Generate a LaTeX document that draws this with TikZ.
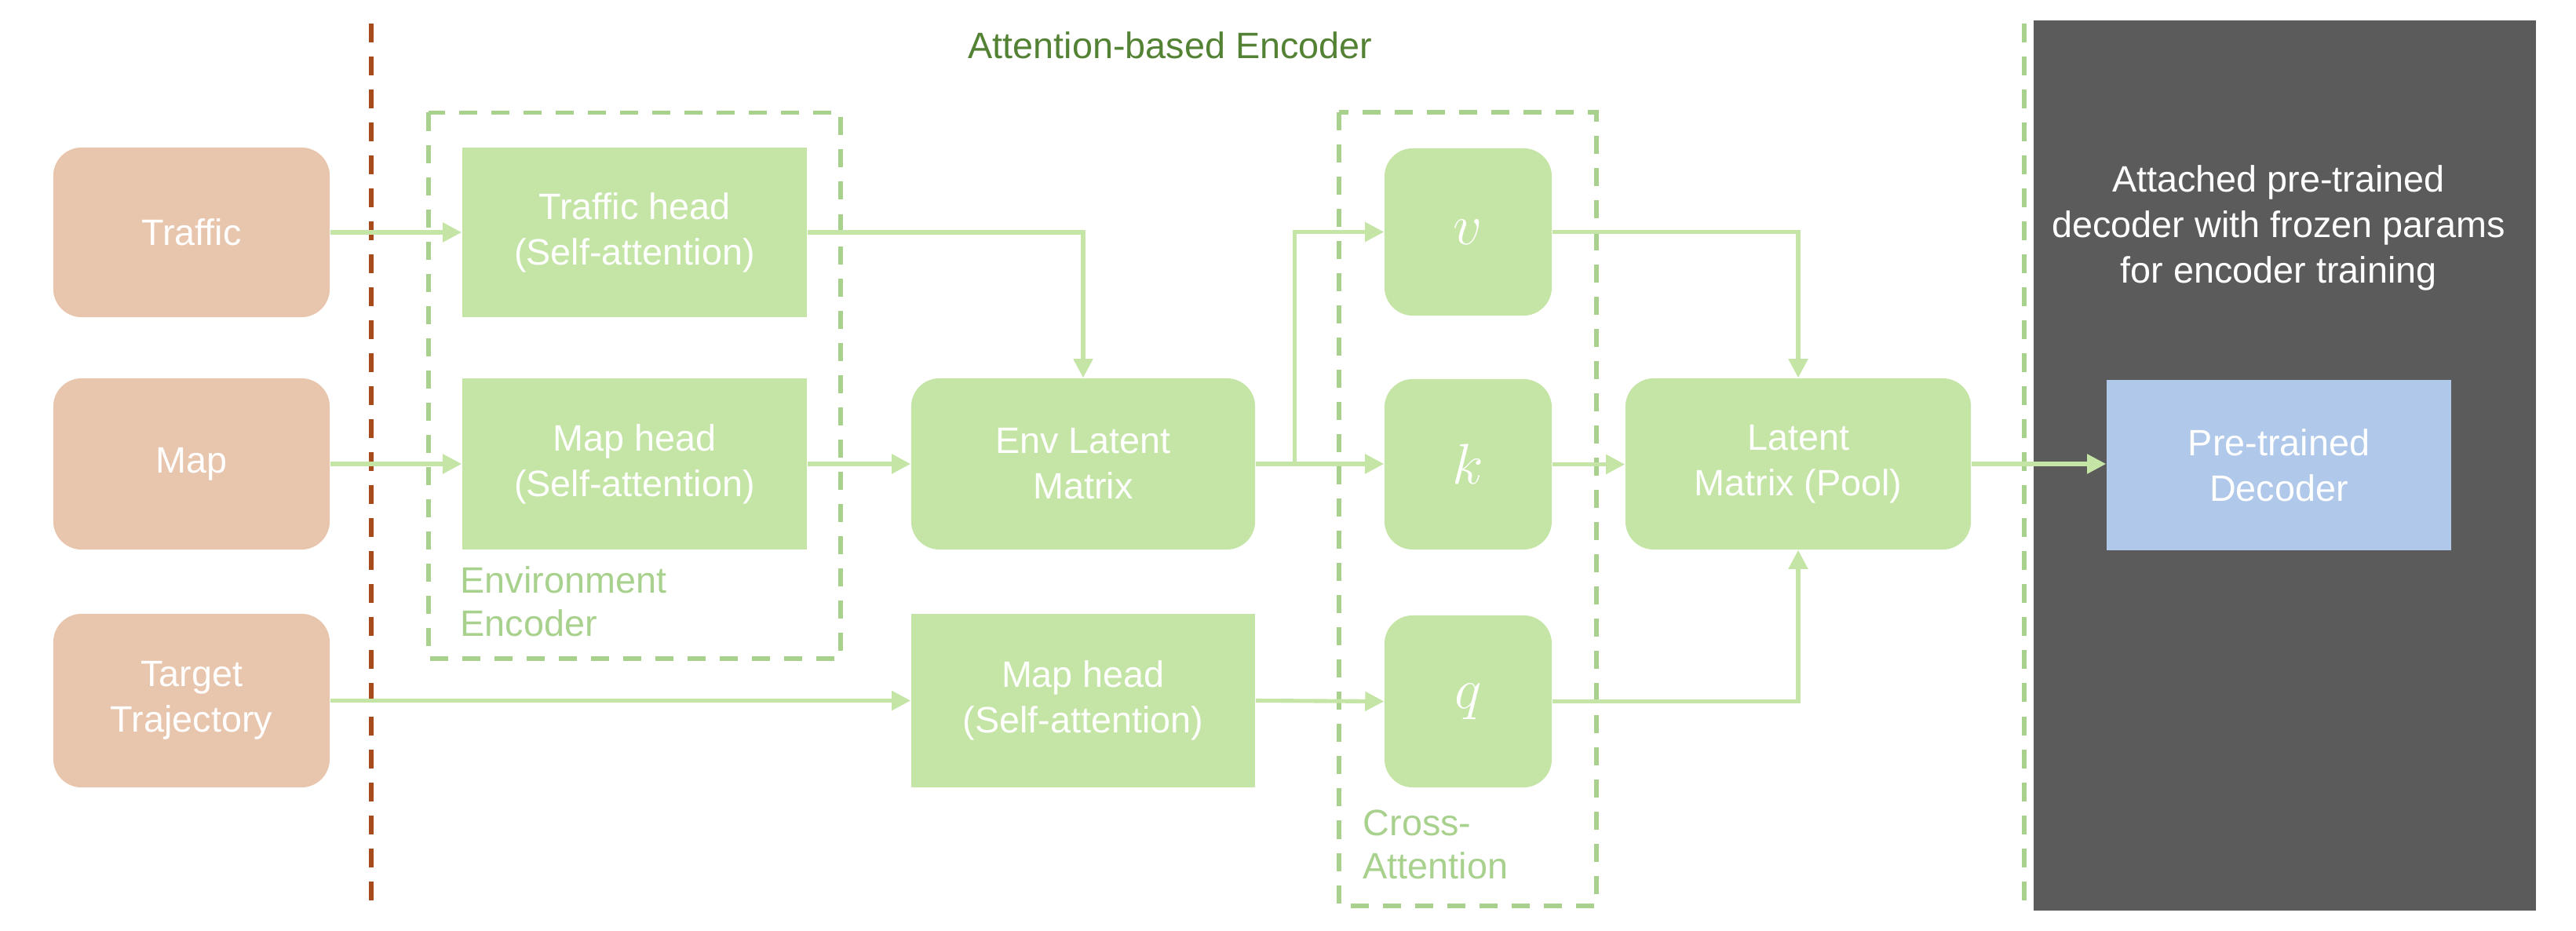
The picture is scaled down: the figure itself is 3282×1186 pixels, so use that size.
\documentclass[tikz,border=0pt]{standalone}
\usepackage{fontspec}
\setmainfont{Liberation Sans}
\usetikzlibrary{arrows.meta}
\definecolor{peach}{HTML}{E8C5AD}
\definecolor{lgreen}{HTML}{C5E5A6}
\definecolor{dgreen}{HTML}{A9D18E}
\definecolor{tgreen}{HTML}{548235}
\definecolor{brownline}{HTML}{A84B1C}
\definecolor{darkpanel}{HTML}{5B5B5B}
\definecolor{lblue}{HTML}{B0C8E9}
\begin{document}
\begin{tikzpicture}[x=0.01cm,y=-0.01cm,
  lbl/.style={font=\fontsize{13.3}{16.5}\selectfont, align=center, text=white, inner sep=0pt},
  inbox/.style={lbl, fill=peach, rounded corners=0.36cm, minimum width=3.52cm},
  sqbox/.style={lbl, fill=lgreen, minimum width=4.39cm},
  rbox/.style={lbl, fill=lgreen, rounded corners=0.36cm, minimum width=4.39cm},
  qkv/.style={lbl, fill=lgreen, rounded corners=0.36cm, minimum width=2.13cm,
              font=\fontsize{22}{26}\selectfont},
  grp/.style={draw=dgreen, line width=1.6pt, dash pattern=on 0.23cm off 0.18cm},
  arr/.style={draw=lgreen, line width=1.45pt, -{Triangle[length=0.24cm,width=0.24cm]}},
  note/.style={font=\fontsize{13.3}{15.6}\selectfont, align=left, text=dgreen, inner sep=0pt, anchor=north west}
]
\useasboundingbox (0,0) rectangle (3282,1186);

% right panel
\fill[darkpanel] (2591,26) rectangle (3231,1160);

% separators
\coordinate (bt) at (473,30); \coordinate (bb) at (473,1159);
\draw[brownline, line width=1.6pt, dash pattern=on 0.24cm off 0.18cm] (bt) -- (bb);
\coordinate (gt) at (2579,30); \coordinate (gb) at (2579,1159);
\draw[dgreen, line width=1.5pt, dash pattern=on 0.24cm off 0.18cm] (gt) -- (gb);

% group boxes
\draw[grp] (546,143.5) rectangle (1071,839);
\draw[grp] (1706,143) rectangle (2034,1154);

% title and notes
\node[font=\fontsize{13.3}{16}\selectfont, text=tgreen, inner sep=0pt] (title) at (1491,58) {Attention-based Encoder};
\node[note] (envlbl) at (586,721) {Environment\\Encoder};
\node[note] (crosslbl) at (1736,1031) {Cross-\\Attention};
\node[lbl] (dectxt) at (2903,290) {Attached pre-trained\\decoder with frozen params\\for encoder training};

% inputs
\node[inbox, minimum height=2.16cm] (traffic) at (244,296) {Traffic};
\node[inbox, minimum height=2.18cm] (map) at (244,591) {Map};
\node[inbox, minimum height=2.21cm] (target) at (244,892.5) {Target\\Trajectory};

% heads
\node[sqbox, minimum height=2.16cm] (thead) at (808.5,296) {Traffic head\\(Self-attention)};
\node[sqbox, minimum height=2.18cm] (mhead) at (808.5,591) {Map head\\(Self-attention)};
\node[rbox, minimum width=4.38cm, minimum height=2.18cm] (env) at (1380,591) {Env Latent\\Matrix};
\node[sqbox, minimum width=4.38cm, minimum height=2.21cm] (mhead2) at (1380,892.5) {Map head\\(Self-attention)};

% q k v
\node[qkv, minimum height=2.13cm] (v) at (1870.5,295.5) {$v$};
\node[qkv, minimum height=2.17cm] (k) at (1870.5,591.5) {$k$};
\node[qkv, minimum height=2.19cm] (q) at (1870.5,893.5) {$q$};

% pool and decoder
\node[rbox, minimum width=4.40cm, minimum height=2.18cm] (pool) at (2291,591) {Latent\\Matrix (Pool)};
\node[lbl, fill=lblue, minimum width=4.39cm, minimum height=2.17cm] (dec) at (2903.5,592.5) {Pre-trained\\Decoder};

% connectors
\draw[arr] (traffic.east) -- (thead.west);
\draw[arr] (map.east) -- (mhead.west);
\draw[arr] (target.east) -- (target.east -| mhead2.west);
\draw[arr] (thead.east) -| (env.north);
\draw[arr] (mhead.east) -- (mhead.east -| env.west);
\draw[arr] (env.east) -- (env.east -| k.west);
\draw[arr] (env.east) -- ++(50,0) |- (v.west);
\draw[arr] (mhead2.east) -- (q.west);
\draw[arr] (v.east) -| (pool.north);
\draw[arr] (k.east) -- (k.east -| pool.west);
\draw[arr] (q.east) -| (pool.south);
\draw[arr] (pool.east) -- (pool.east -| dec.west);
\end{tikzpicture}
\end{document}
